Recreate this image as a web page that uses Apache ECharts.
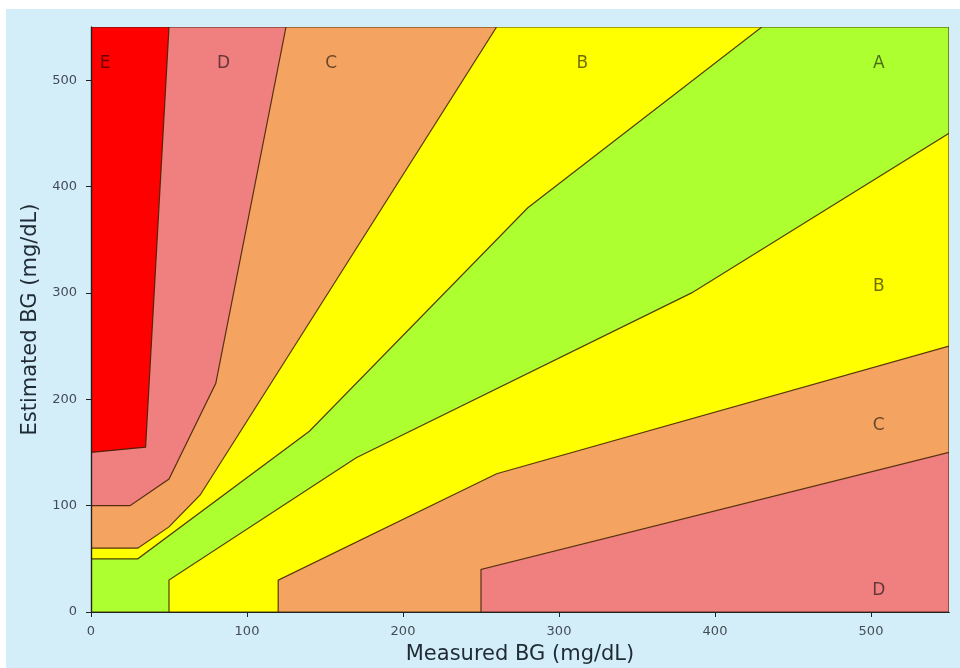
<!DOCTYPE html>
<html>
<head>
<meta charset="utf-8">
<script src="https://cdn.jsdelivr.net/npm/echarts@6/dist/echarts.min.js"></script>
<style>
  html, body { margin: 0; padding: 0; background: #ffffff; }
  #parkesGrid { width: 960px; height: 668px; }
</style>
</head>
<body>
<div id="parkesGrid"></div>
<script>
// zone boundaries (measured, estimated) in mg/dL
var zoneAUpper = [[0, 50], [30, 50], [140, 170], [280, 380], [430, 550]];
var zoneALower = [[50, 0], [50, 30], [170, 145], [385, 300], [550, 450]];
var zoneBUpper = [[0, 60], [30, 60], [50, 80], [70, 110], [260, 550]];
var zoneBLower = [[120, 0], [120, 30], [260, 130], [550, 250]];
var zoneCUpper = [[0, 100], [25, 100], [50, 125], [80, 215], [125, 550]];
var zoneCLower = [[250, 0], [250, 40], [550, 150]];
var zoneDUpper = [[0, 150], [35, 155], [50, 550]];

// zone letters
var labelText = ['E', 'D', 'C', 'B', 'A', 'B', 'C', 'D'];
var labelX = [9, 85, 154, 315, 505, 505, 505, 505];
var labelY = [516, 516, 516, 516, 516, 306, 175, 20];

var tickValues = [0, 100, 200, 300, 400, 500];
var axisMax = 550;

var zoneColors = {
  A: '#adff2f',
  B: '#ffff00',
  C: '#f4a460',
  D: '#f08080',
  E: '#ff0000'
};

// build closed regions from the boundaries and the plot corners
function band(upper, lower) {
  var pts = upper.slice();
  pts.push([axisMax, axisMax]);
  pts = pts.concat(lower.slice().reverse());
  pts.push([0, 0]);
  return pts;
}
var regions = [
  { fill: zoneColors.D, pts: [[0, 0], [axisMax, 0], [axisMax, axisMax], [0, axisMax]] },
  { fill: zoneColors.E, pts: zoneDUpper.concat([[0, axisMax]]) },
  { fill: zoneColors.C, pts: band(zoneCUpper, zoneCLower) },
  { fill: zoneColors.B, pts: band(zoneBUpper, zoneBLower) },
  { fill: zoneColors.A, pts: band(zoneAUpper, zoneALower) }
];

var regionSeries = regions.map(function (r) {
  return {
    type: 'custom',
    clip: true,
    silent: true,
    data: r.pts,
    encode: { x: 0, y: 1 },
    renderItem: function (params, api) {
      if (params.dataIndex !== 0) return null;
      return {
        type: 'polygon',
        shape: { points: r.pts.map(function (p) { return api.coord(p); }) },
        style: { fill: r.fill, stroke: 'rgba(60,30,0,0.85)', lineWidth: 1.2 }
      };
    }
  };
});

var labelData = labelText.map(function (t, i) {
  return { name: t, value: [labelX[i], labelY[i]] };
});

var chart = echarts.init(document.getElementById('parkesGrid'));
chart.setOption({
  backgroundColor: '#d3eef9',
  animation: false,
  textStyle: { fontFamily: 'DejaVu Sans' },
  graphic: [
    { type: 'rect', left: 0, top: 0, shape: { width: 960, height: 9 }, style: { fill: '#ffffff' } },
    { type: 'rect', left: 0, top: 0, shape: { width: 6, height: 668 }, style: { fill: '#ffffff' } }
  ],
  grid: { left: 91, right: 11, top: 27, bottom: 56, containLabel: false, outerBoundsMode: 'none' },
  xAxis: [{
    type: 'value',
    min: 0,
    max: axisMax,
    z: 10,
    name: 'Measured BG (mg/dL)',
    nameLocation: 'middle',
    nameGap: 32,
    nameTextStyle: { fontSize: 21, color: '#1f2a33' },
    splitLine: { show: false },
    axisLine: { show: true, lineStyle: { color: '#222', width: 1.2 } },
    axisTick: { show: true, length: 5, customValues: tickValues, lineStyle: { color: '#222' } },
    axisLabel: { customValues: tickValues, fontSize: 13, color: '#444c55', margin: 13 }
  }, {
    type: 'value',
    position: 'top',
    min: 0,
    max: axisMax,
    z: 10,
    splitLine: { show: false },
    axisLine: { show: true, lineStyle: { color: '#222', width: 1.2 } },
    axisTick: { show: false },
    axisLabel: { show: false }
  }],
  yAxis: [{
    type: 'value',
    min: 0,
    max: axisMax,
    z: 10,
    name: 'Estimated BG (mg/dL)',
    nameLocation: 'middle',
    nameGap: 50,
    nameTextStyle: { fontSize: 21, color: '#1f2a33' },
    splitLine: { show: false },
    axisLine: { show: true, lineStyle: { color: '#222', width: 1.2 } },
    axisTick: { show: true, length: 5, customValues: tickValues, lineStyle: { color: '#222' } },
    axisLabel: { customValues: tickValues, fontSize: 13, color: '#444c55', margin: 14 }
  }, {
    type: 'value',
    position: 'right',
    min: 0,
    max: axisMax,
    z: 10,
    splitLine: { show: false },
    axisLine: { show: true, lineStyle: { color: '#222', width: 1.2 } },
    axisTick: { show: false },
    axisLabel: { show: false }
  }],
  series: regionSeries.concat([{
    type: 'scatter',
    silent: true,
    symbolSize: 0,
    z: 20,
    data: labelData,
    label: {
      show: true,
      position: 'inside',
      formatter: '{b}',
      fontSize: 17,
      color: 'rgba(0,0,0,0.72)'
    }
  }])
});
</script>
</body>
</html>
